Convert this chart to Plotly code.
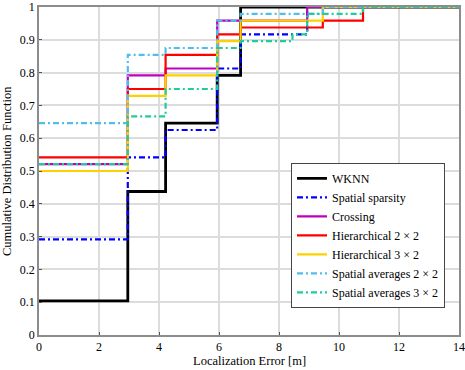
import plotly.graph_objects as go

# Localization error (m) at each step and the CDF level reached from that point on
wknn_x = [0, 2.96, 4.22, 5.94, 6.72, 14]
wknn_y = [0.1042, 0.4375, 0.6458, 0.7917, 1.0, 1.0]

sparsity_x = [0, 2.96, 4.22, 5.94, 6.72, 8.94, 14]
sparsity_y = [0.2917, 0.5417, 0.625, 0.8125, 0.9167, 1.0, 1.0]

crossing_x = [0, 2.96, 4.22, 5.94, 8.94, 14]
crossing_y = [0.5208, 0.7917, 0.8125, 0.9583, 1.0, 1.0]

hier22_x = [0, 2.96, 4.22, 5.94, 6.72, 9.46, 10.8, 14]
hier22_y = [0.5417, 0.75, 0.8542, 0.9167, 0.9375, 0.9583, 1.0, 1.0]

hier32_x = [0, 2.96, 4.22, 5.94, 6.72, 9.46, 14]
hier32_y = [0.5, 0.7292, 0.7917, 0.8958, 0.9583, 1.0, 1.0]

avg22_x = [0, 2.96, 4.22, 5.94, 6.72, 9.46, 14]
avg22_y = [0.6458, 0.8542, 0.875, 0.9583, 0.9792, 1.0, 1.0]

avg32_x = [0, 2.96, 4.22, 5.94, 6.72, 8.45, 8.94, 10.8, 14]
avg32_y = [0.5208, 0.6667, 0.75, 0.875, 0.8958, 0.9167, 0.9792, 1.0, 1.0]

names = ["WKNN", "Spatial sparsity", "Crossing", "Hierarchical 2 × 2",
         "Hierarchical 3 × 2", "Spatial averages 2 × 2", "Spatial averages 3 × 2"]

x_ticks = [0, 2, 4, 6, 8, 10, 12, 14]
y_ticks = [0, 0.1, 0.2, 0.3, 0.4, 0.5, 0.6, 0.7, 0.8, 0.9, 1]

x_title = "Localization Error [m]"
y_title = "Cumulative Distribution Function"

series = [
    (wknn_x, wknn_y, "#000000", "solid", 2.8),
    (sparsity_x, sparsity_y, "#0000ff", "6px,3px,2px,3px", 2.2),
    (crossing_x, crossing_y, "#bf00bf", "solid", 2.2),
    (hier22_x, hier22_y, "#ff0000", "solid", 2.2),
    (hier32_x, hier32_y, "#ffd000", "solid", 2.2),
    (avg22_x, avg22_y, "#4dbeee", "6px,3px,2px,3px", 2.2),
    (avg32_x, avg32_y, "#1ecc9c", "6px,3px,2px,3px", 2.2),
]

fig = go.Figure()
for (xs, ys, col, dash, w), nm in zip(series, names):
    fig.add_trace(go.Scatter(x=xs, y=ys, mode="lines", name=nm,
                             line=dict(color=col, dash=dash, width=w, shape="hv")))

font_family = "Liberation Serif, DejaVu Serif, serif"
axis_common = dict(showgrid=True, gridcolor="#dcdcdc", gridwidth=1.5,
                   showline=True, linecolor="#8c8c8c", linewidth=1.5, mirror=True,
                   ticks="inside", ticklen=3, tickcolor="#555555", zeroline=False,
                   automargin=False, ticklabeloverflow="allow",
                   tickfont=dict(family=font_family, size=12, color="black"))

fig.update_layout(
    width=465, height=370,
    margin=dict(l=39, r=6, t=7, b=35, autoexpand=False),
    paper_bgcolor="white", plot_bgcolor="white",
    font=dict(family=font_family, size=12, color="black"),
    showlegend=True,
    legend=dict(x=0.6, y=0.525, xanchor="left", yanchor="top",
                bgcolor="white", bordercolor="#444444", borderwidth=1,
                font=dict(family=font_family, size=12), tracegroupgap=0,
                itemwidth=30),
    xaxis=dict(range=[0, 14], tickvals=x_ticks, ticktext=[str(v) for v in x_ticks],
               ticklabelstandoff=0, **axis_common),
    yaxis=dict(range=[0, 1], tickvals=y_ticks,
               ticktext=["0"] + [f"{v:g}" for v in y_ticks[1:-1]] + ["1"],
               ticklabelstandoff=0, **axis_common),
    annotations=[
        dict(text=x_title, xref="paper", yref="paper", x=0.5, y=0,
             yshift=-17, xanchor="center", yanchor="top", showarrow=False,
             font=dict(family=font_family, size=12.5)),
        dict(text=y_title, xref="paper", yref="paper", x=0, y=0.5,
             xshift=-32, xanchor="center", yanchor="middle", textangle=-90,
             showarrow=False, font=dict(family=font_family, size=12.5)),
    ],
)

fig.write_html("out.html", config={"displayModeBar": False},
               post_script="document.body.style.margin='0px';document.body.style.overflow='hidden';")
